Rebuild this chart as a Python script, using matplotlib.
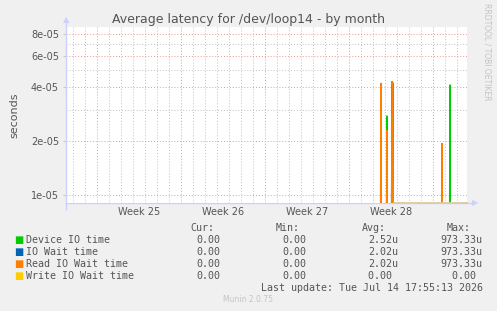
import matplotlib
matplotlib.use("agg")
import matplotlib.pyplot as plt
from matplotlib.lines import Line2D
import numpy as np

# x in days from the left edge of the graph, 2h per sample
x_span = 33.42
sample_step = 1.0 / 12
week_starts = [2.58, 9.58, 16.58, 23.58, 30.58]
week_labels = ["Week 25", "Week 26", "Week 27", "Week 28"]

# nonzero samples (day, seconds)
device_t = [26.79, 27.125, 27.21, 32.04]
device_v = [2.76e-05, 4.3e-05, 4.2e-05, 4.12e-05]
iowait_t = [26.29, 26.79, 27.125, 27.21, 27.29, 31.33]
iowait_v = [4.2e-05, 2.3e-05, 4.3e-05, 4.3e-05, 4.15e-05, 1.93e-05]
read_t = [26.29, 26.79, 27.125, 27.21, 27.29, 31.33]
read_v = [4.2e-05, 2.3e-05, 4.3e-05, 4.3e-05, 4.15e-05, 1.93e-05]
data_start = 26.0
write_start = 27.3

names = ["Device IO time", "IO Wait time", "Read IO Wait time", "Write IO Wait time"]
colors = ["#00cc00", "#0066b3", "#ff8000", "#ffcc00"]
cur = [0.0, 0.0, 0.0, 0.0]
mins = [0.0, 0.0, 0.0, 0.0]
avgs = [("2.52", "u"), ("2.02", "u"), ("2.02", "u"), ("0.00", " ")]
maxs = [("973.33", "u"), ("973.33", "u"), ("973.33", "u"), ("0.00", " ")]

ymin, ymax = 9.0e-06, 8.7e-05
floor = 1e-07
major_y = [1e-05, 2e-05, 4e-05, 6e-05, 8e-05]
minor_y = [3e-05, 5e-05, 7e-05]

W, H = 497, 311
fig = plt.figure(figsize=(W / 100, H / 100), dpi=100, facecolor="#f0f0f0")
ax = fig.add_axes([66 / W, 1 - 203 / H, 401 / W, 176 / H])
ax.set_facecolor("white")
ax.set_yscale("log")
ax.set_xlim(0, x_span)
ax.set_ylim(ymin, ymax)

# grid
day_lines = [week_starts[0] - 2 + i for i in range(0, 33)]
for d in day_lines:
    if 0 < d < x_span and min(abs(d - w) for w in week_starts) > 0.1:
        ax.axvline(d, color="#c0c0c0", lw=0.7, ls=(0, (1, 2)), zorder=1)
for w in week_starts:
    ax.axvline(w, color="#e89898", lw=0.7, ls=(0, (1, 2)), zorder=1)
for y in minor_y:
    ax.axhline(y, color="#c0c0c0", lw=0.7, ls=(0, (1, 2)), zorder=1)
for y in major_y:
    ax.axhline(y, color="#e89898", lw=0.7, ls=(0, (1, 2)), zorder=1)


def series(ts, vs, start):
    grid = np.arange(start, x_span, sample_step)
    vals = np.zeros_like(grid)
    for t, v in zip(ts, vs):
        vals[np.argmin(abs(grid - t))] = v
    return grid, np.where(vals > 0, vals, floor)


for ts, vs, c in [(device_t, device_v, colors[0]),
                  (iowait_t, iowait_v, colors[1]),
                  (read_t, read_v, colors[2])]:
    gx, gy = series(ts, vs, data_start)
    ax.fill_between(gx, floor, gy, color=c, alpha=0.4, lw=0, zorder=2)
    ax.plot(gx, gy, color=c, lw=1.1, zorder=3)

# write IO wait is zero everywhere -> drawn on the bottom edge
ax.plot([write_start, x_span], [ymin, ymin], color="#ddcc99", lw=1.3,
        zorder=4, clip_on=False)

for sp in ax.spines.values():
    sp.set_visible(False)
ax.set_xticks([])
ax.minorticks_off()
ax.set_yticks(major_y)
ax.set_yticklabels(["1e-05", "2e-05", "4e-05", "6e-05", "8e-05"])
ax.tick_params(axis="y", length=2, color="#c8c8c8", labelsize=7, labelcolor="#555555", pad=3)
ax.set_ylabel("seconds", fontsize=8, color="#555555", labelpad=8)

for i, lab in enumerate(week_labels):
    mid = (week_starts[i] + week_starts[i + 1]) / 2
    ax.text(mid, -0.05, lab, transform=ax.get_xaxis_transform(), ha="center", va="center",
            fontsize=7, color="#555555")

# axis lines with arrows
axc = "#ccd0ff"
fig.add_artist(Line2D([66 / W, 473 / W], [1 - 203 / H, 1 - 203 / H], color=axc, lw=1.0, zorder=0))
fig.add_artist(Line2D([66 / W, 66 / W], [1 - 209 / H, 1 - 22 / H], color=axc, lw=1.0))
fig.text(475 / W, 1 - 203 / H, "\u25b6", color=axc, fontsize=6, ha="center", va="center")
fig.text(66 / W, 1 - 20 / H, "\u25b2", color=axc, fontsize=6, ha="center", va="center")

fig.text(248 / W, 1 - 19 / H, "Average latency for /dev/loop14 - by month", ha="center",
         va="center", fontsize=9, color="#555555")
fig.text(487 / W, 1 - 52 / H, "RRDTOOL / TOBI OETIKER", rotation=270, ha="center",
         va="center", fontsize=5.5, color="#c4c4c4")

mono = "DejaVu Sans Mono"
fs = 7.2
fig.text(190 / W, 1 - 228 / H, "Cur:", family=mono, fontsize=fs, color="#555555", va="center")
fig.text(276 / W, 1 - 228 / H, "Min:", family=mono, fontsize=fs, color="#555555", va="center")
fig.text(362 / W, 1 - 228 / H, "Avg:", family=mono, fontsize=fs, color="#555555", va="center")
fig.text(447 / W, 1 - 228 / H, "Max:", family=mono, fontsize=fs, color="#555555", va="center")
for i in range(4):
    yy = 1 - (240 + 12 * i) / H
    fig.text(14 / W, yy, "\u25a0", color=colors[i], fontsize=7, va="center")
    fig.text(26 / W, yy, names[i], family=mono, fontsize=fs, color="#555555", va="center")
    fig.text(196 / W, yy, "%.2f" % cur[i], family=mono, fontsize=fs, color="#555555", va="center")
    fig.text(282 / W, yy, "%.2f" % mins[i], family=mono, fontsize=fs, color="#555555", va="center")
    fig.text(368 / W, yy, "%s%s" % avgs[i], family=mono, fontsize=fs, color="#555555", va="center")
    fig.text(440 / W, yy, "%6s%s" % maxs[i], family=mono, fontsize=fs, color="#555555", va="center")
fig.text(483 / W, 1 - 288 / H, "Last update: Tue Jul 14 17:55:13 2026", family=mono,
         fontsize=fs, color="#555555", va="center", ha="right")
fig.text(248 / W, 1 - 300 / H, "Munin 2.0.75", fontsize=5.5, color="#c4c4c4", ha="center", va="center")

plt.savefig("out.png", dpi=100, facecolor=fig.get_facecolor())
plt.close()
